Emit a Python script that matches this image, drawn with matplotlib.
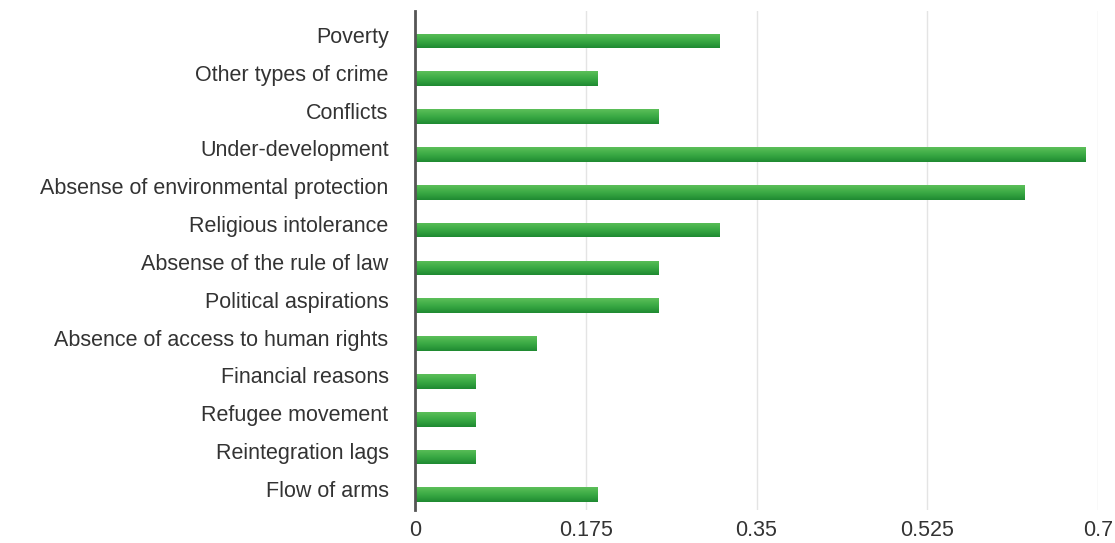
import numpy as np
import matplotlib
matplotlib.use("Agg")
import matplotlib.pyplot as plt
import matplotlib.transforms as mtransforms
from matplotlib.colors import LinearSegmentedColormap

categories = ["Poverty", "Other types of crime", "Conflicts", "Under-development",
              "Absense of environmental protection", "Religious intolerance",
              "Absense of the rule of law", "Political aspirations",
              "Absence of access to human rights", "Financial reasons",
              "Refugee movement", "Reintegration lags", "Flow of arms"]
values = [0.3125, 0.1875, 0.25, 0.6875, 0.625, 0.3125, 0.25, 0.25,
          0.125, 0.0625, 0.0625, 0.0625, 0.1875]
xticks = [0, 0.175, 0.35, 0.525, 0.7]
xtickLabels = ["0", "0.175", "0.35", "0.525", "0.7"]

plt.rcParams['font.family'] = ['Liberation Sans', 'DejaVu Sans']

fig = plt.figure(figsize=(11.15, 5.43), dpi=100)
ax = fig.add_axes([0.3722, 0.0608, 0.6126, 0.9189])

yPos = np.arange(len(categories))
bars = ax.barh(yPos, values, height=0.39, color="#2f9e3c", zorder=2)

# vertical gradient inside each bar: lighter top, darker bottom
greenMap = LinearSegmentedColormap.from_list("g", ["#5cbf5a", "#3aaa44", "#1f8a32"])
grad = np.linspace(0, 1, 64).reshape(-1, 1)
for b in bars:
    x0, y0 = b.get_x(), b.get_y()
    w, h = b.get_width(), b.get_height()
    im = ax.imshow(grad, cmap=greenMap, aspect="auto", extent=[x0, x0 + w, y0 + h, y0],
                   origin="upper", zorder=3)
    im.set_clip_path(b)

ax.set_xlim(0, 0.7)
ax.set_ylim(12.4, -0.79)
ax.set_yticks(yPos)
ax.set_yticklabels(categories)
ax.set_xticks(xticks)
ax.set_xticklabels(xtickLabels)
ax.tick_params(axis="y", length=0, pad=19, labelsize=15.5, labelcolor="#333333")
ax.tick_params(axis="x", length=0, pad=7, labelsize=15.5, labelcolor="#333333")

# nudge category labels upward a little
shift = mtransforms.ScaledTranslation(0, 6 / 100, fig.dpi_scale_trans)
for lab in ax.get_yticklabels():
    lab.set_transform(lab.get_transform() + shift)

ax.grid(axis="x", color="#e4e4e4", linewidth=1, zorder=0)
for side in ["top", "right", "bottom"]:
    ax.spines[side].set_visible(False)
ax.spines["left"].set_color("#555555")
ax.spines["left"].set_linewidth(2)
ax.spines["left"].set_zorder(4)

plt.savefig("out.png", dpi=100)
